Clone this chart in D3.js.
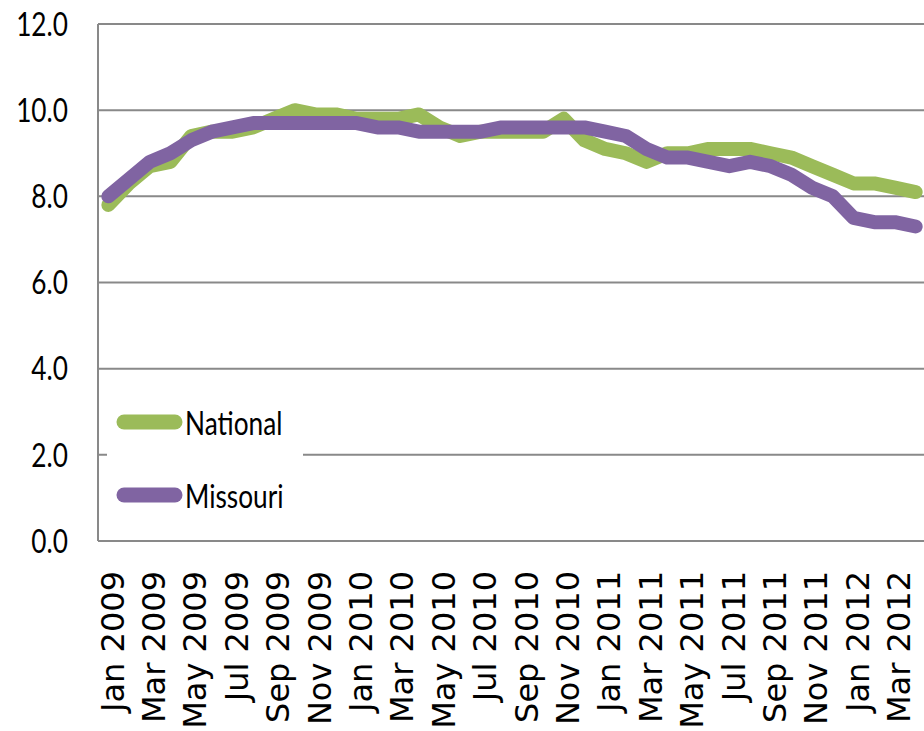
<!DOCTYPE html>
<html><head><meta charset="utf-8">
<script src="https://cdn.jsdelivr.net/npm/d3@7"></script>
<style>body{margin:0;background:#fff}</style>
</head><body>
<svg id="c" width="924" height="731"></svg>
<script>
const months = ["Jan 2009","Feb 2009","Mar 2009","Apr 2009","May 2009","Jun 2009","Jul 2009","Aug 2009","Sep 2009","Oct 2009","Nov 2009","Dec 2009",
  "Jan 2010","Feb 2010","Mar 2010","Apr 2010","May 2010","Jun 2010","Jul 2010","Aug 2010","Sep 2010","Oct 2010","Nov 2010","Dec 2010",
  "Jan 2011","Feb 2011","Mar 2011","Apr 2011","May 2011","Jun 2011","Jul 2011","Aug 2011","Sep 2011","Oct 2011","Nov 2011","Dec 2011",
  "Jan 2012","Feb 2012","Mar 2012","Apr 2012"];
const national = [7.8,8.3,8.7,8.8,9.4,9.5,9.5,9.6,9.8,10.0,9.9,9.9,
  9.8,9.8,9.8,9.9,9.6,9.4,9.5,9.5,9.5,9.5,9.8,9.3,
  9.1,9.0,8.8,9.0,9.0,9.1,9.1,9.1,9.0,8.9,8.7,8.5,
  8.3,8.3,8.2,8.1];
const missouri = [8.0,8.4,8.8,9.0,9.3,9.5,9.6,9.7,9.7,9.7,9.7,9.7,
  9.7,9.6,9.6,9.5,9.5,9.5,9.5,9.6,9.6,9.6,9.6,9.6,
  9.5,9.4,9.1,8.9,8.9,8.8,8.7,8.8,8.7,8.5,8.2,8.0,
  7.5,7.4,7.4,7.3];
const yTicks = [0,2,4,6,8,10,12];
const seriesNames = ["National","Missouri"];
const seriesColors = ["#9BBB59","#8064A2"];

const svg = d3.select("#c");
const x = d3.scaleBand().domain(months).range([98, 926]);
const y = d3.scaleLinear().domain([0,12]).range([541,24]);
const cx = m => x(m) + x.bandwidth()/2;

// gridlines
svg.append("g").selectAll("line").data(yTicks.filter(d=>d>0)).join("line")
  .attr("x1",98).attr("x2",924).attr("y1",d=>y(d)).attr("y2",d=>y(d))
  .attr("stroke","#898989").attr("stroke-width",2);

// y axis
const ya = svg.append("g").attr("transform","translate(98,0)")
  .call(d3.axisLeft(y).tickValues(yTicks).tickSize(0).tickFormat(d3.format(".1f")));
ya.select(".domain").remove();
ya.selectAll("text").attr("x",0).attr("dy","0.35em").attr("text-anchor","end")
  .attr("transform","translate(-30,0) scale(0.82,1)")
  .style("font-family","Lato").style("font-size","32px").attr("fill","#000");
svg.append("line").attr("x1",98).attr("x2",98).attr("y1",y(12)).attr("y2",y(0))
  .attr("stroke","#898989").attr("stroke-width",2);

// x axis
const xa = svg.append("g").attr("transform","translate(0,541)")
  .call(d3.axisBottom(x).tickValues(months.filter((d,i)=>i%2===0)).tickSize(0));
xa.select(".domain").remove();
xa.selectAll("text").attr("x",0).attr("y",0).attr("dy","0.35em").attr("text-anchor","end")
  .attr("transform","translate(4,30) rotate(-90)")
  .style("font-family","DejaVu Sans").style("font-size","32px").attr("fill","#000");
svg.append("line").attr("x1",98).attr("x2",924).attr("y1",y(0)).attr("y2",y(0))
  .attr("stroke","#898989").attr("stroke-width",2);

// lines
const line = d3.line().x((d,i)=>cx(months[i])).y(d=>y(d));
[national, missouri].forEach((s,k)=>{
  svg.append("path").datum(s).attr("d",line).attr("fill","none")
    .attr("stroke",seriesColors[k]).attr("stroke-width",14)
    .attr("stroke-linejoin","round").attr("stroke-linecap","round");
});

// legend
const lg = svg.append("g");
lg.append("rect").attr("x",107).attr("y",392).attr("width",196).attr("height",135).attr("fill","#fff");
const ly = [422, 495];
seriesNames.forEach((n,k)=>{
  lg.append("line").attr("x1",124).attr("x2",175).attr("y1",ly[k]).attr("y2",ly[k])
    .attr("stroke",seriesColors[k]).attr("stroke-width",15).attr("stroke-linecap","round");
  lg.append("text").attr("transform",`translate(185,${ly[k]+13}) scale(0.82,1)`)
    .style("font-family","Lato").style("font-size","32px").attr("fill","#000").text(n);
});
</script>
</body></html>
